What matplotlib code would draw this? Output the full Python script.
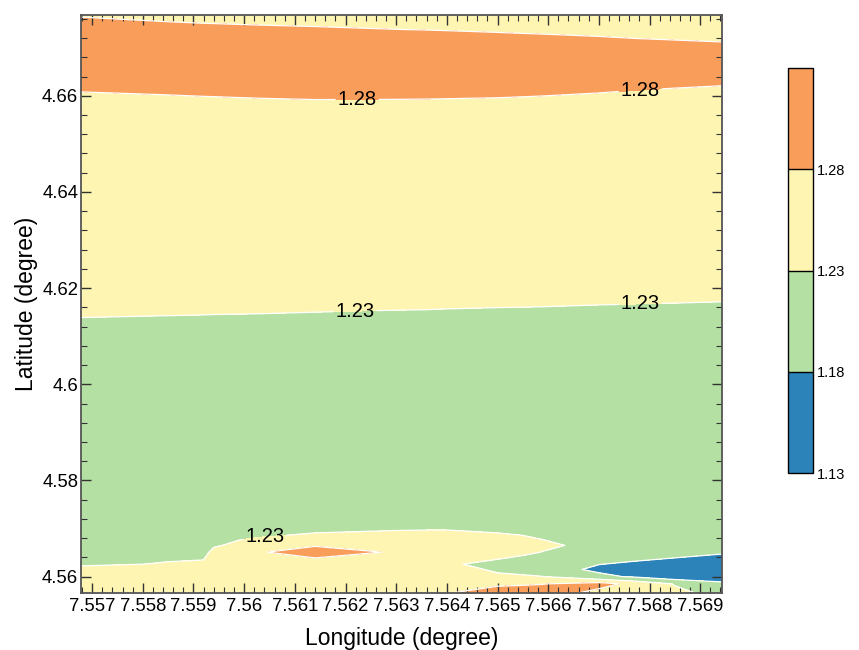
import numpy as np
import matplotlib
matplotlib.use("Agg")
import matplotlib.pyplot as plt
from matplotlib.ticker import MultipleLocator, AutoMinorLocator, FuncFormatter

plt.rcParams['font.family'] = ['Liberation Sans', 'DejaVu Sans']

# grid nodes (degrees)
lon = [7.55678, 7.5585, 7.5592, 7.5594, 7.5599, 7.5603, 7.5614, 7.5630, 7.5636,
       7.5640, 7.5650, 7.5655, 7.5659, 7.5670, 7.5677, 7.5685, 7.56943]
lat = [4.5566, 4.5585, 4.5600, 4.5615, 4.5626, 4.5651, 4.5665, 4.5685, 4.5710,
       4.5900, 4.6400, 4.6680, 4.6768]

# gridded values, one row per latitude
z_rows = [
    [1.250, 1.252, 1.254, 1.255, 1.256, 1.255, 1.256, 1.258, 1.258, 1.276, 1.320, 1.320, 1.310, 1.262, 1.255, 1.240, 1.2167],
    [1.248, 1.250, 1.252, 1.254, 1.255, 1.255, 1.257, 1.258, 1.257, 1.262, 1.2657, 1.2725, 1.2783, 1.3003, 1.2647, 1.2273, 1.186],
    [1.245, 1.247, 1.250, 1.252, 1.254, 1.256, 1.259, 1.259, 1.256, 1.258, 1.240, 1.236, 1.231, 1.190, 1.175, 1.1485, 1.1638],
    [1.240, 1.242, 1.246, 1.250, 1.252, 1.258, 1.263, 1.262, 1.255, 1.255, 1.2212, 1.2135, 1.200, 1.1714, 1.165, 1.155, 1.150],
    [1.225, 1.232, 1.236, 1.246, 1.250, 1.262, 1.2692, 1.266, 1.256, 1.237, 1.215, 1.205, 1.210, 1.181, 1.174, 1.165, 1.160],
    [1.220, 1.222, 1.219, 1.240, 1.246, 1.2784, 1.290, 1.2779, 1.258, 1.254, 1.2525, 1.2397, 1.2287, 1.200, 1.199, 1.1938, 1.1838],
    [1.218, 1.219, 1.217, 1.226, 1.238, 1.250, 1.2783, 1.262, 1.252, 1.250, 1.252, 1.245, 1.238, 1.2175, 1.214, 1.212, 1.205],
    [1.216, 1.217, 1.216, 1.220, 1.2235, 1.2265, 1.236, 1.240, 1.240, 1.240, 1.234, 1.2305, 1.2247, 1.216, 1.215, 1.214, 1.212],
    [1.214, 1.214, 1.214, 1.215, 1.216, 1.217, 1.211, 1.2173, 1.2192, 1.2192, 1.2173, 1.218, 1.218, 1.215, 1.215, 1.215, 1.214],
    [1.215, 1.215, 1.215, 1.215, 1.215, 1.215, 1.215, 1.215, 1.215, 1.215, 1.215, 1.215, 1.215, 1.215, 1.215, 1.215, 1.215],
    [1.2464, 1.2459, 1.2457, 1.2456, 1.2455, 1.2454, 1.2450, 1.2445, 1.2444, 1.2442, 1.2439, 1.2438, 1.2437, 1.2433, 1.2431, 1.2429, 1.2426],
    [1.2916, 1.2932, 1.2940, 1.2942, 1.2947, 1.2951, 1.2960, 1.2961, 1.2960, 1.2959, 1.2955, 1.2950, 1.2946, 1.2932, 1.2920, 1.2910, 1.2900],
    [1.2794, 1.2775, 1.2766, 1.2764, 1.2758, 1.2753, 1.2740, 1.2718, 1.2712, 1.2707, 1.2692, 1.2685, 1.2680, 1.2665, 1.2652, 1.2641, 1.2625],
]

levels = [1.13, 1.18, 1.23, 1.28, 1.33]
fill_colors = ['#2c83ba', '#b5e0a3', '#fef5b3', '#f99d5b']
label_levels = [1.23, 1.28]
label_spots = [(7.56223, 4.6591), (7.56782, 4.6606),
               (7.56219, 4.6154), (7.56782, 4.6169),
               (7.56041, 4.5680)]

X, Y = np.meshgrid(lon, lat)
Z = np.array(z_rows)

fig = plt.figure(figsize=(8.59, 6.5), dpi=100)
ax = fig.add_axes([0.0943, 0.0877, 0.7462, 0.8892])
cax = fig.add_axes([0.9173, 0.2723, 0.0291, 0.623])

cf = ax.contourf(X, Y, Z, levels=levels, colors=fill_colors)
ax.contour(X, Y, Z, levels=[1.18], colors='white', linewidths=0.9)
cl = ax.contour(X, Y, Z, levels=label_levels, colors='white', linewidths=0.9)
txt = ax.clabel(cl, manual=label_spots, fmt='%.2f',
                fontsize=14.5, colors='black', inline=True, inline_spacing=2)
for t in txt:
    t.set_rotation(0)

ax.set_xlim(lon[0], lon[-1])
ax.set_ylim(lat[0], lat[-1])
ax.xaxis.set_major_locator(MultipleLocator(0.001))
ax.yaxis.set_major_locator(MultipleLocator(0.02))
ax.xaxis.set_minor_locator(AutoMinorLocator(5))
ax.yaxis.set_minor_locator(AutoMinorLocator(5))
fmt = FuncFormatter(lambda v, p: '%g' % round(v, 4))
ax.xaxis.set_major_formatter(fmt)
ax.yaxis.set_major_formatter(fmt)
ax.tick_params(which='both', direction='in', top=True, right=True,
               color='#333333', labelsize=13.3)
ax.tick_params(axis='y', pad=2)
ax.tick_params(which='major', length=7, width=1)
ax.tick_params(which='minor', length=4, width=0.8)
for s in ax.spines.values():
    s.set_color('#555555')
    s.set_linewidth(1.3)

ax.set_xlabel('Longitude (degree)', fontsize=16.5, labelpad=9)
ax.set_ylabel('Latitude (degree)', fontsize=16.5, labelpad=3)

cb = fig.colorbar(cf, cax=cax, ticks=levels[:-1], drawedges=True)
cb.ax.yaxis.set_major_formatter(FuncFormatter(lambda v, p: '%.2f' % v))
cb.ax.tick_params(length=0, labelsize=10.5, pad=3)
cb.outline.set_edgecolor('black')
cb.outline.set_linewidth(1)
cb.dividers.set_color('black')
cb.dividers.set_linewidth(1)

fig.savefig('out.png', dpi=100)
